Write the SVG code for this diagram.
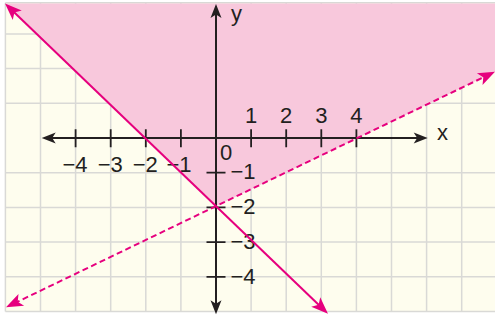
<svg xmlns="http://www.w3.org/2000/svg" width="495" height="322" viewBox="0 0 495 322">
<style>
.grid{stroke:#d9d9d6;stroke-width:1.5;fill:none}
.axis{stroke:#231f20;stroke-width:2;fill:none}
.tick{stroke:#231f20;stroke-width:1.8}
.bound{stroke:#e6007e;stroke-width:2;fill:none}
.dash{stroke-dasharray:6 3.5}
text{font-family:"Liberation Sans",Arial,sans-serif;font-size:22px;fill:#231f20}
.c{text-anchor:middle}
</style>
<defs>
<marker id="ah" markerUnits="userSpaceOnUse" viewBox="-8 -7 18 14" markerWidth="18" markerHeight="14" refX="0" refY="0" orient="auto-start-reverse">
<path d="M8,0 L-6,-5.5 L-2.5,0 L-6,5.5 Z" fill="#231f20"/>
</marker>
<marker id="mh" markerUnits="userSpaceOnUse" viewBox="-10 -8 20 16" markerWidth="20" markerHeight="16" refX="0" refY="0" orient="auto-start-reverse">
<path d="M9,0 L-8,-6.5 L-4,0 L-8,6.5 Z" fill="#e6007e"/>
</marker>
</defs>
<rect x="0" y="0" width="495" height="322" fill="#ffffff"/>
<g id="plane">
<rect x="5.4" y="2.7" width="489.6" height="308.8" fill="#fefdee"/>
<path class="grid" d="M5.4,2.7V311.5M40.5,2.7V311.5M75.6,2.7V311.5M110.7,2.7V311.5M145.8,2.7V311.5M180.9,2.7V311.5M251.1,2.7V311.5M286.2,2.7V311.5M321.3,2.7V311.5M356.4,2.7V311.5M391.5,2.7V311.5M426.6,2.7V311.5M461.7,2.7V311.5M5.4,2.7H495M5.4,33.9H495M5.4,68.6H495M5.4,103.3H495M5.4,172.7H495M5.4,207.4H495M5.4,242.1H495M5.4,276.8H495M5.4,311.5H495"/>
</g>
<g id="region">
<polygon points="5.4,3.4 495,3.4 495,71.7 216,206.2 5.4,3.9" fill="#f8c8dc"/>
</g>
<g id="axes">
<line class="axis" x1="49.7" y1="138" x2="419.7" y2="138" marker-start="url(#ah)" marker-end="url(#ah)"/>
<line class="axis" x1="216" y1="12" x2="216" y2="306.3" marker-start="url(#ah)" marker-end="url(#ah)"/>
<path class="tick" d="M75.6,129.3V147.3M110.7,129.3V147.3M145.8,129.3V147.3M180.9,129.3V147.3M251.1,129.3V147.3M286.2,129.3V147.3M321.3,129.3V147.3M356.4,129.3V147.3M206.5,172.7H225.5M206.5,207.4H225.5M206.5,242.1H225.5M206.5,276.8H225.5"/>
<text x="231" y="21">y</text>
<text x="437" y="140">x</text>
<text x="220" y="160">0</text>
<text class="c" x="251.1" y="123">1</text>
<text class="c" x="286.2" y="123">2</text>
<text class="c" x="321.3" y="123">3</text>
<text class="c" x="356.4" y="123">4</text>
<text class="c" x="75" y="171.5">−4</text>
<text class="c" x="110.2" y="171.5">−3</text>
<text class="c" x="145.2" y="171.5">−2</text>
<text class="c" x="179" y="171.5">−1</text>
<text x="230.5" y="179">−1</text>
<text x="230.5" y="213.8">−2</text>
<text x="230.5" y="248.5">−3</text>
<text x="230.5" y="283.5">−4</text>
</g>
<g id="connectors">
<line id="solid-line" class="bound" x1="11.5" y1="9.7" x2="321.5" y2="307.5" marker-start="url(#mh)" marker-end="url(#mh)"/>
<line id="dashed-line" class="bound dash" x1="14.1" y1="303.4" x2="486.9" y2="75.6" marker-start="url(#mh)" marker-end="url(#mh)"/>
</g>
</svg>
